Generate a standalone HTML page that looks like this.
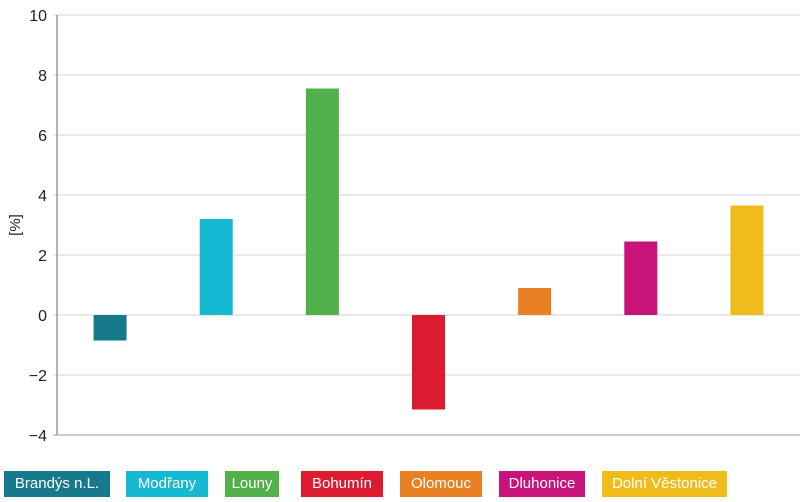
<!DOCTYPE html>
<html><head><meta charset="utf-8"><style>
body{margin:0;background:#fff;width:800px;height:502px;overflow:hidden;font-family:"Liberation Sans",sans-serif}
.leg{position:absolute;top:471px;height:26px;line-height:26px;color:#fff;font-size:15px;text-align:center}
</style></head><body>
<svg id="chart" width="800" height="465" style="position:absolute;left:0;top:0"></svg>
<div class="leg" style="left:4px;width:106px;background:#167a8c">Brandýs n.L.</div>
<div class="leg" style="left:126px;width:82px;background:#16b9d2">Modřany</div>
<div class="leg" style="left:225px;width:54px;background:#52b04a">Louny</div>
<div class="leg" style="left:301px;width:82px;background:#dc1c2e">Bohumín</div>
<div class="leg" style="left:400px;width:82px;background:#ea8024">Olomouc</div>
<div class="leg" style="left:499px;width:86px;background:#c8147a">Dluhonice</div>
<div class="leg" style="left:602px;width:125px;background:#f0bc1c">Dolní Věstonice</div>
<script>
const categories=["Brandýs n.L.","Modřany","Louny","Bohumín","Olomouc","Dluhonice","Dolní Věstonice"];
const values=[-0.85,3.2,7.55,-3.15,0.9,2.45,3.65];
const colors=["#167a8c","#16b9d2","#52b04a","#dc1c2e","#ea8024","#c8147a","#f0bc1c"];
const ticks=[10,8,6,4,2,0,-2,-4];
const tickLabels=["10","8","6","4","2","0","\u22122","\u22124"];
const svg=document.getElementById('chart');const NS='http://www.w3.org/2000/svg';
const x0=57,x1=800,yTop=15,yBot=435,vMax=10,vMin=-4;
const y=v=>yTop+(vMax-v)/(vMax-vMin)*(yBot-yTop);
const step=(x1-x0)/categories.length;
const xc=i=>x0+step*(i+0.5);
function mk(t,a){const e=document.createElementNS(NS,t);for(const k in a)e.setAttribute(k,a[k]);svg.appendChild(e);return e;}
ticks.forEach((t,i)=>{
 const g=mk('line',{x1:x0-4,x2:x1,y1:y(t),y2:y(t),stroke:t===vMin?'#999':'#d4d4d4','stroke-width':1});
 
 
 const l=mk('text',{x:x0-10,y:y(t)+6,'text-anchor':'end','font-size':16,fill:'#222'});
 l.textContent=tickLabels[i];
 
 
});
const ax=mk('line',{x1:x0,x2:x0,y1:yTop,y2:yBot,stroke:'#999','stroke-width':1.5});


const tt=mk('text',{x:20,y:y(3),'text-anchor':'middle','font-size':15,fill:'#222',transform:`rotate(-90 20 ${y(3)})`});
tt.textContent='[%]';


values.forEach((v,i)=>{
 const w=33,top=Math.min(y(v),y(0)),h=Math.abs(y(v)-y(0));
 const r=mk('rect',{x:xc(i)-w/2,y:top,width:w,height:h,fill:colors[i]});
 
 
});
</script>
</body></html>
